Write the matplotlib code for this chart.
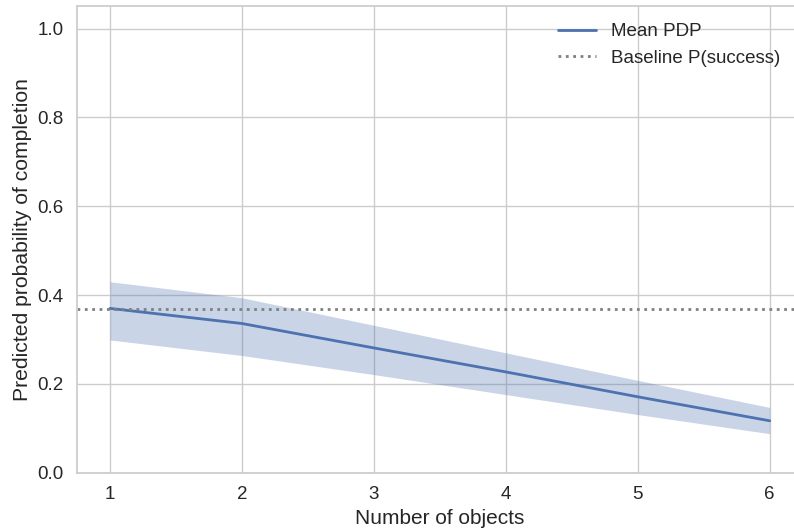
import matplotlib
matplotlib.use("Agg")
import matplotlib.pyplot as plt
import seaborn as sns
import numpy as np

sns.set_theme(style="whitegrid")
plt.rcParams["font.family"] = ["Liberation Sans", "DejaVu Sans"]

n_objects = [1, 2, 3, 4, 5, 6]
mean_pdp = [0.370, 0.336, 0.281, 0.227, 0.171, 0.117]
pdp_low = [0.299, 0.264, 0.221, 0.176, 0.131, 0.088]
pdp_high = [0.430, 0.394, 0.332, 0.270, 0.208, 0.147]
baseline = 0.368

text_color = "#262626"

fig = plt.figure(figsize=(7.94, 5.30), dpi=100)
ax = fig.add_axes([0.097, 0.108, 0.914, 0.880])

ax.fill_between(n_objects, pdp_low, pdp_high, color="#4C72B0", alpha=0.3, linewidth=0)
ax.plot(n_objects, mean_pdp, color="#4C72B0", linewidth=2.0, label="Mean PDP")
ax.axhline(baseline, color="gray", linestyle=":", linewidth=2.0, label="Baseline P(success)")

ax.set_xlim(0.75, 6.25)
ax.set_ylim(0, 1.05)
ax.set_xticks(n_objects)
ax.set_yticks([0.0, 0.2, 0.4, 0.6, 0.8, 1.0])
ax.tick_params(labelsize=13.5, colors=text_color)
ax.set_xlabel("Number of objects", fontsize=15, color=text_color, labelpad=4)
ax.set_ylabel("Predicted probability of completion", fontsize=15.2, color=text_color)
leg = ax.legend(loc="upper right", frameon=False, fontsize=13.5,
                bbox_to_anchor=(0.992, 1.0))
for t in leg.get_texts():
    t.set_color(text_color)

fig.savefig("out.png", dpi=100)
